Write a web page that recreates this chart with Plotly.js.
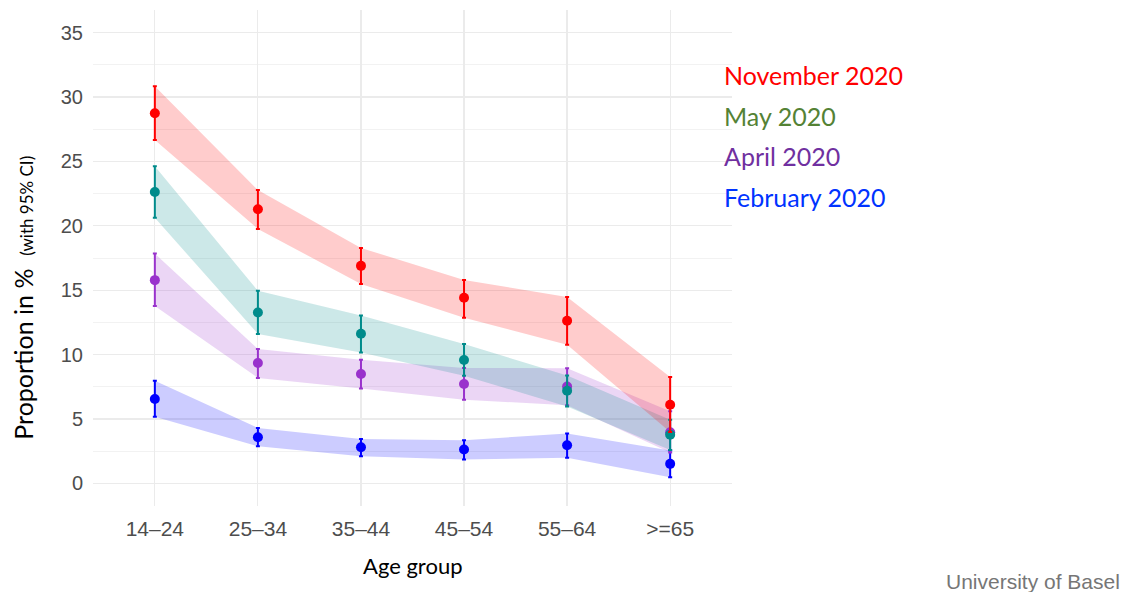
<!DOCTYPE html>
<html>
<head>
<meta charset="utf-8">
<script src="https://cdn.plot.ly/plotly-3.0.1.min.js"></script>
<style>html,body{margin:0;padding:0;background:#fff;}#chart{width:1132px;height:592px;}</style>
</head>
<body>
<div id="chart"></div>
<script>
// Categories
var ageGroups = ['14–24', '25–34', '35–44', '45–54', '55–64', '>=65'];

// November 2020
var novMean = [28.74, 21.28, 16.89, 14.41, 12.63, 6.11];
var novLow  = [26.65, 19.75, 15.49, 12.86, 10.77, 4.00];
var novHigh = [30.83, 22.77, 18.28, 15.80, 14.48, 8.27];

// May 2020
var mayMean = [22.62, 13.27, 11.62, 9.58, 7.19, 3.79];
var mayLow  = [20.63, 11.60, 10.17, 8.36, 5.98, 2.60];
var mayHigh = [24.63, 14.95, 13.04, 10.82, 8.38, 4.95];

// April 2020
var aprMean = [15.78, 9.35, 8.49, 7.72, 7.52, 3.97];
var aprLow  = [13.77, 8.19, 7.38, 6.50, 6.08, 2.40];
var aprHigh = [17.84, 10.43, 9.60, 8.96, 8.95, 5.60];

// February 2020
var febMean = [6.55, 3.59, 2.81, 2.63, 2.97, 1.52];
var febLow  = [5.18, 2.89, 2.12, 1.86, 1.99, 0.48];
var febHigh = [7.97, 4.31, 3.46, 3.36, 3.87, 2.55];

var legendLabels = ['November 2020', 'May 2020', 'April 2020', 'February 2020'];

var series = [
  {mean: febMean, lo: febLow, hi: febHigh, color: '#0000FF', fill: 'rgba(0,0,255,0.2)'},
  {mean: aprMean, lo: aprLow, hi: aprHigh, color: '#9932CC', fill: 'rgba(153,50,204,0.2)'},
  {mean: mayMean, lo: mayLow, hi: mayHigh, color: '#008B8B', fill: 'rgba(0,139,139,0.2)'},
  {mean: novMean, lo: novLow, hi: novHigh, color: '#FF0000', fill: 'rgba(255,0,0,0.2)'}
];

var traces = [];
series.forEach(function (s) {
  traces.push({x: ageGroups, y: s.lo, type: 'scatter', mode: 'lines',
    line: {width: 0, color: s.fill}, hoverinfo: 'skip', showlegend: false});
  traces.push({x: ageGroups, y: s.hi, type: 'scatter', mode: 'lines', fill: 'tonexty',
    fillcolor: s.fill, line: {width: 0, color: s.fill}, hoverinfo: 'skip', showlegend: false});
});
series.forEach(function (s) {
  traces.push({x: ageGroups, y: s.mean, type: 'scatter', mode: 'markers',
    marker: {size: 10, color: s.color}, showlegend: false,
    error_y: {type: 'data', symmetric: false,
      array: s.hi.map(function (v, i) { return v - s.mean[i]; }),
      arrayminus: s.mean.map(function (v, i) { return v - s.lo[i]; }),
      color: s.color, thickness: 2, width: 2}});
});

var legendColors = ['#FF0000', '#548235', '#7030A0', '#0033FF'];
var legendY = [0.869, 0.786, 0.706, 0.623];

var annotations = legendLabels.map(function (t, i) {
  return {text: t, xref: 'paper', yref: 'paper', x: 0.984, y: legendY[i],
    xanchor: 'left', yanchor: 'middle', showarrow: false,
    font: {family: 'Lato', size: 25, color: legendColors[i]}};
});
annotations.push({text: 'Proportion in %  <span style="font-size:17px">(with 95% CI)</span>',
  xref: 'paper', yref: 'paper', x: -0.1095, y: 0.42, textangle: -90,
  xanchor: 'center', yanchor: 'middle', showarrow: false,
  font: {family: 'Lato', size: 25, color: '#000000'}});
annotations.push({text: 'Age group', xref: 'paper', yref: 'paper', x: 0.5, y: -0.119,
  xanchor: 'center', yanchor: 'middle', showarrow: false,
  font: {family: 'Lato', size: 22, color: '#000000'}});
annotations.push({text: 'University of Basel', xref: 'paper', yref: 'paper', x: 1.61, y: -0.153,
  xanchor: 'right', yanchor: 'middle', showarrow: false,
  font: {family: 'Liberation Sans', size: 21, color: '#767676'}});

var layout = {
  width: 1132, height: 592,
  margin: {l: 93, r: 400, t: 10, b: 86},
  paper_bgcolor: '#FFFFFF', plot_bgcolor: '#FFFFFF',
  showlegend: false,
  xaxis: {type: 'category', range: [-0.6, 5.6], showgrid: true, gridcolor: '#EBEBEB', gridwidth: 1.2,
    zeroline: false, showline: false, ticks: '', ticklabelstandoff: 8,
    tickfont: {family: 'Liberation Sans', size: 21, color: '#4D4D4D'}},
  yaxis: {range: [-1.75, 36.75], tickvals: [0, 5, 10, 15, 20, 25, 30, 35], showgrid: true,
    gridcolor: '#EBEBEB', gridwidth: 1.2, zeroline: false, showline: false, ticks: '',
    ticklabelstandoff: 9,
    minor: {tickvals: [2.5, 7.5, 12.5, 17.5, 22.5, 27.5, 32.5], showgrid: true, gridcolor: '#F2F2F2', gridwidth: 1},
    tickfont: {family: 'Liberation Sans', size: 20, color: '#4D4D4D'}},
  annotations: annotations
};

Plotly.newPlot('chart', traces, layout, {displayModeBar: false, staticPlot: true});
</script>
</body>
</html>
